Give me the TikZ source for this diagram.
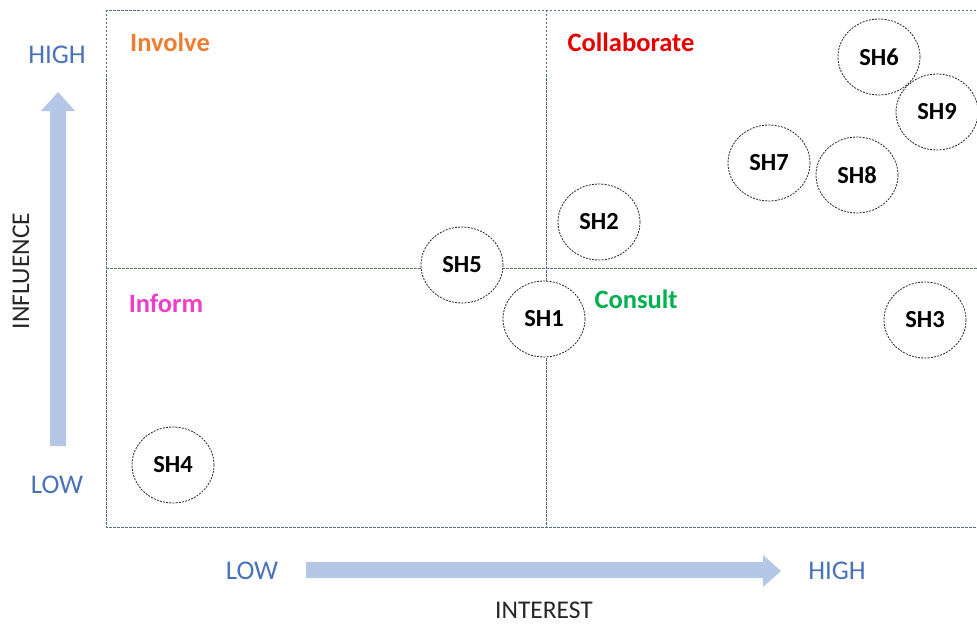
\documentclass[tikz,border=0pt]{standalone}
\usepackage{fontspec}
\setmainfont{Carlito}
\usetikzlibrary{shapes.geometric}
\definecolor{gridline}{HTML}{4F6F93}
\definecolor{axisblue}{HTML}{B4C7E7}
\definecolor{labelblue}{HTML}{4A72B8}
\definecolor{involvec}{HTML}{ED7D31}
\definecolor{collabc}{HTML}{E60000}
\definecolor{informc}{HTML}{EE3EC9}
\definecolor{consultc}{HTML}{00B050}
\tikzset{
  quadline/.style={draw=gridline, line width=0.9pt, dash pattern=on 2.5pt off 1.5pt},
  holder/.style={ellipse, draw=black!85, fill=white, line width=0.8pt,
    dash pattern=on 2pt off 1.2pt, minimum width=82pt, minimum height=76pt,
    inner sep=0pt, font=\fontsize{24.5}{27}\selectfont\bfseries},
  quadlabel/.style={font=\fontsize{26.5}{30}\selectfont\bfseries, inner sep=0pt},
  axislabel/.style={font=\fontsize{27}{30}\selectfont, text=labelblue, inner sep=0pt},
  axistitle/.style={font=\fontsize{25.5}{28}\selectfont, text=black!85, inner sep=0pt},
  axisarrow/.style={fill=axisblue, draw=none}
}
\begin{document}
\begin{tikzpicture}[x=1pt,y=-1pt]
\useasboundingbox (0,0) rectangle (977,626);

% quadrant grid
\coordinate (tl) at (106,10);
\coordinate (br) at (980,527);
\draw[quadline] (tl) rectangle (br);
\coordinate (vtop) at (546,10);
\coordinate (vbot) at (546,527);
\coordinate (hl) at (106,268);
\coordinate (hr) at (980,268);
\draw[quadline] (vtop) -- (vbot);
\draw[quadline] (hl) -- (hr);

% quadrant titles
\node[quadlabel, text=involvec] (involve) at (170,42) {Involve};
\node[quadlabel, text=collabc] (collab) at (631,42) {Collaborate};
\node[quadlabel, text=informc] (inform) at (166,303) {Inform};
\node[quadlabel, text=consultc] (consult) at (636,299) {Consult};

% influence axis (vertical arrow)
\fill[axisblue] (50,446) -- (66,446) -- (66,111) -- (75,111) -- (58,92)
  -- (41,111) -- (50,111) -- cycle;
\node[axislabel] (inflhigh) at (57,55) {HIGH};
\node[axislabel] (infllow) at (57,485) {LOW};
\node[axistitle, rotate=90] (influence) at (21,271) {INFLUENCE};

% interest axis (horizontal arrow)
\fill[axisblue] (306,562) -- (763,562) -- (763,555) -- (781,571)
  -- (763,587) -- (763,578) -- (306,578) -- cycle;
\node[axislabel] (intlow) at (252,571) {LOW};
\node[axislabel] (inthigh) at (837,571) {HIGH};
\node[axistitle] (interest) at (544,610) {INTEREST};

% stakeholders
\node[holder] (sh5) at (462,265) {SH5};
\node[holder] (sh1) at (544,319) {SH1};
\node[holder] (sh2) at (599,222) {SH2};
\node[holder] (sh7) at (769,163) {SH7};
\node[holder] (sh8) at (857,175) {SH8};
\node[holder] (sh6) at (879,57) {SH6};
\node[holder] (sh9) at (937,112) {SH9};
\node[holder] (sh3) at (925,320) {SH3};
\node[holder] (sh4) at (173,465) {SH4};
\end{tikzpicture}
\end{document}
